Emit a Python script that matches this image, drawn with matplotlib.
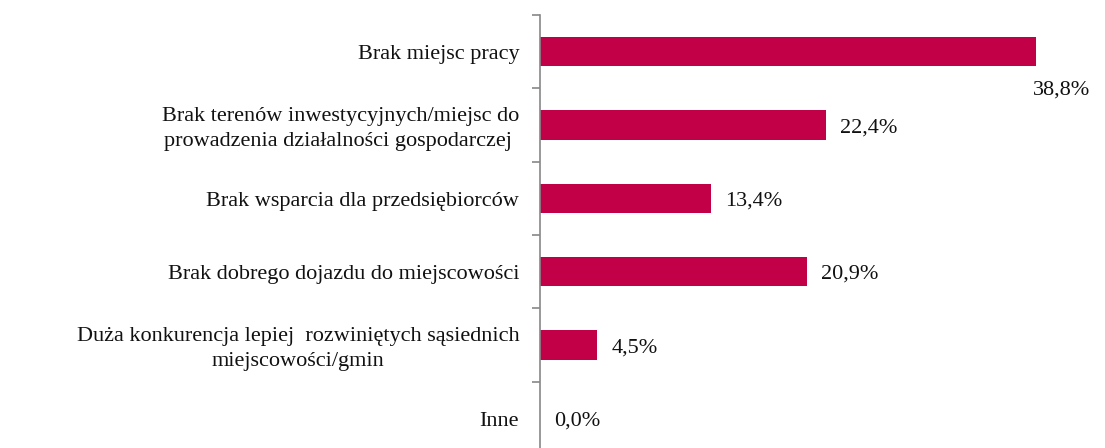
import matplotlib.pyplot as plt
import numpy as np

# dane
kategorie = [
    'Brak miejsc pracy',
    'Brak terenów inwestycyjnych/miejsc do\nprowadzenia działalności gospodarczej ',
    'Brak wsparcia dla przedsiębiorców',
    'Brak dobrego dojazdu do miejscowości',
    'Duża konkurencja lepiej  rozwiniętych sąsiednich\nmiejscowości/gmin',
    'Inne',
]
wartosci = [38.8, 22.4, 13.4, 20.9, 4.5, 0.0]
etykiety = [f'{v:.1f}%'.replace('.', ',') for v in wartosci]

plt.rcParams['font.family'] = ['Liberation Serif', 'DejaVu Serif']

fig = plt.figure(figsize=(11.05, 4.48), dpi=100)
ax = fig.add_axes([540 / 1105, -7 / 448, (1051 - 540) / 1105, 440 / 448])

y = np.arange(len(kategorie))
kolor = '#C10047'
ax.barh(y, wartosci, height=0.4, color=kolor)

ax.set_xlim(0, 40)
ax.set_ylim(len(kategorie) - 0.5, -0.5)

# etykiety wartości
for i, (v, t) in enumerate(zip(wartosci, etykiety)):
    if i == 0:
        ax.annotate(t, (v, i), xytext=(-2, -21), textcoords='offset points',
                    ha='left', va='top', fontsize=16, color='#111111')
    else:
        ax.annotate(t, (v, i), xytext=(10, -2), textcoords='offset points',
                    ha='left', va='center', fontsize=16, color='#111111')

# opisy kategorii
for i, k in enumerate(kategorie):
    przes = -3 if '\n' in k else -2
    ax.annotate(k, (0, i), xytext=(-15, przes), textcoords='offset points',
                ha='right', va='center', multialignment='center',
                fontsize=16, color='#111111', linespacing=1.4)

ax.set_yticks(np.arange(-0.5, len(kategorie), 1))
ax.set_yticklabels([])
ax.tick_params(axis='y', length=6, width=1.2, color='#888888', direction='out')
ax.set_xticks([])

for s in ['top', 'right', 'bottom']:
    ax.spines[s].set_visible(False)
ax.spines['left'].set_color('#888888')
ax.spines['left'].set_linewidth(1.2)

fig.savefig('out.png', dpi=100)
